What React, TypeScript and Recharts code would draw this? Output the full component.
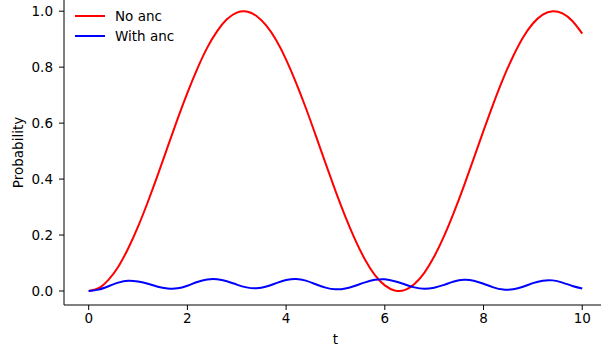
import { LineChart, Line, XAxis, YAxis, Label } from "recharts"

// time samples (step 0.2)
const tValues = [
  0, 0.2, 0.4, 0.6, 0.8, 1.0, 1.2, 1.4, 1.6, 1.8, 2.0, 2.2, 2.4, 2.6, 2.8, 3.0, 3.2, 3.4, 3.6, 3.8,
  4.0, 4.2, 4.4, 4.6, 4.8, 5.0, 5.2, 5.4, 5.6, 5.8, 6.0, 6.2, 6.4, 6.6, 6.8, 7.0, 7.2, 7.4, 7.6, 7.8,
  8.0, 8.2, 8.4, 8.6, 8.8, 9.0, 9.2, 9.4, 9.6, 9.8, 10.0,
]

const noAnc = [
  0, 0.01, 0.04, 0.087, 0.152, 0.23, 0.319, 0.415, 0.515, 0.614, 0.708, 0.794, 0.869, 0.928, 0.971,
  0.995, 0.999, 0.983, 0.948, 0.896, 0.827, 0.745, 0.654, 0.556, 0.456, 0.358, 0.266, 0.183, 0.112,
  0.057, 0.02, 0.002, 0.003, 0.025, 0.065, 0.123, 0.196, 0.281, 0.374, 0.473, 0.573, 0.67, 0.76,
  0.839, 0.906, 0.956, 0.988, 1.0, 0.992, 0.965, 0.92,
]

const withAnc = [
  0, 0.005, 0.017, 0.03, 0.037, 0.034, 0.026, 0.015, 0.009, 0.0095, 0.019, 0.032, 0.041, 0.042,
  0.035, 0.023, 0.013, 0.01, 0.016, 0.028, 0.039, 0.043, 0.037, 0.024, 0.012, 0.006, 0.009, 0.019,
  0.031, 0.04, 0.042, 0.035, 0.024, 0.013, 0.008, 0.012, 0.022, 0.034, 0.04, 0.037, 0.026, 0.013,
  0.005, 0.006, 0.015, 0.028, 0.037, 0.038, 0.03, 0.018, 0.009,
]

const xTicks = [0, 2, 4, 6, 8, 10]
const yTicks = [0, 0.2, 0.4, 0.6, 0.8, 1.0]

const data = tValues.map((t, i) => ({ t, noAnc: noAnc[i], withAnc: withAnc[i] }))

const FONT = "DejaVu Sans, sans-serif"
const FS = 13.5

export default function App() {
  return (
    <div style={{ position: "absolute", left: 0, top: 0, width: 601, height: 346, background: "#fff", fontFamily: FONT }}>
      <LineChart width={601} height={346} data={data} margin={{ top: 0, right: 0, bottom: 0, left: 0 }}>
        <XAxis
          dataKey="t"
          type="number"
          domain={[-0.5, 10.38]}
          allowDataOverflow
          ticks={xTicks}
          height={41}
          tickSize={5}
          tickMargin={3}
          stroke="#000"
          tick={{ fill: "#000", fontSize: FS, fontFamily: FONT }}
        >
          <Label
            content={({ viewBox }: any) => (
              <text x={viewBox.x + viewBox.width / 2 + 3} y={344} textAnchor="middle" fontSize={FS} fontFamily={FONT} fill="#000">
                t
              </text>
            )}
          />
        </XAxis>
        <YAxis
          type="number"
          domain={[-0.05, 1.04]}
          allowDataOverflow
          ticks={yTicks}
          width={64}
          tickSize={5}
          tickMargin={6}
          stroke="#000"
          tickFormatter={(v: number) => v.toFixed(1)}
          tick={{ fill: "#000", fontSize: FS, fontFamily: FONT }}
        >
          <Label
            content={({ viewBox }: any) => {
              const cy = viewBox.y + viewBox.height / 2
              return (
                <text x={23} y={cy} transform={`rotate(-90, 23, ${cy})`} textAnchor="middle" fontSize={FS} fontFamily={FONT} fill="#000">
                  Probability
                </text>
              )
            }}
          />
        </YAxis>
        <Line type="natural" dataKey="noAnc" stroke="#ff0000" strokeWidth={2} dot={false} isAnimationActive={false} />
        <Line type="natural" dataKey="withAnc" stroke="#0000ff" strokeWidth={2} dot={false} isAnimationActive={false} />
      </LineChart>
      <div style={{ position: "absolute", left: 75, top: 6, fontSize: FS, color: "#000", lineHeight: "20px" }}>
        {[
          { name: "No anc", color: "#ff0000" },
          { name: "With anc", color: "#0000ff" },
        ].map((s) => (
          <div key={s.name} style={{ display: "flex", alignItems: "center", height: 20 }}>
            <svg width={30} height={4} style={{ marginRight: 10 }}>
              <line x1={0} y1={2} x2={30} y2={2} stroke={s.color} strokeWidth={2} />
            </svg>
            <span>{s.name}</span>
          </div>
        ))}
      </div>
    </div>
  )
}
